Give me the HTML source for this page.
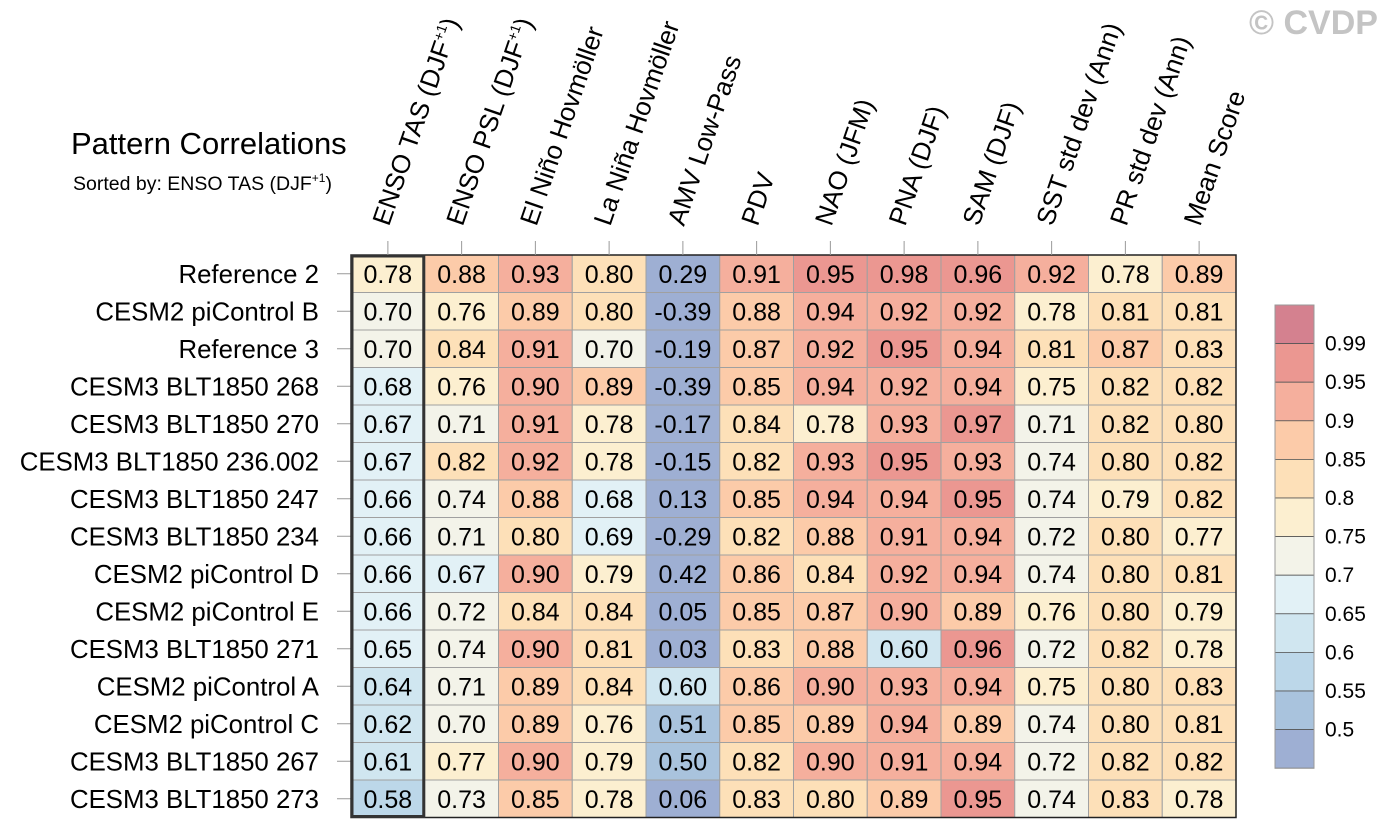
<!DOCTYPE html>
<html><head><meta charset="utf-8">
<style>
html,body{margin:0;padding:0;background:#fff;}
svg{display:block;font-family:"Liberation Sans",Arial,sans-serif;}
</style></head>
<body>
<svg id="c" width="1386" height="839" viewBox="0 0 1386 839" xmlns="http://www.w3.org/2000/svg">
<text x="1249" y="34" font-size="34" font-weight="bold" fill="#c4c4c4">© CVDP</text>
<text x="71" y="154" font-size="31" fill="#000">Pattern Correlations</text>
<text x="73" y="190" font-size="19.5" fill="#000">Sorted by: ENSO TAS (DJF<tspan font-size="12" dy="-8">+1</tspan><tspan dy="8">)</tspan></text>
<g id="grid"></g>
<g id="cbar"></g>
</svg>
<script>
const metrics = ["ENSO TAS (DJF+1)","ENSO PSL (DJF+1)","El Niño Hovmöller","La Niña Hovmöller","AMV Low-Pass","PDV","NAO (JFM)","PNA (DJF)","SAM (DJF)","SST std dev (Ann)","PR std dev (Ann)","Mean Score"];
const models = ["Reference 2","CESM2 piControl B","Reference 3","CESM3 BLT1850 268","CESM3 BLT1850 270","CESM3 BLT1850 236.002","CESM3 BLT1850 247","CESM3 BLT1850 234","CESM2 piControl D","CESM2 piControl E","CESM3 BLT1850 271","CESM2 piControl A","CESM2 piControl C","CESM3 BLT1850 267","CESM3 BLT1850 273"];
const values = [
[0.78,0.88,0.93,0.80,0.29,0.91,0.95,0.98,0.96,0.92,0.78,0.89],
[0.70,0.76,0.89,0.80,-0.39,0.88,0.94,0.92,0.92,0.78,0.81,0.81],
[0.70,0.84,0.91,0.70,-0.19,0.87,0.92,0.95,0.94,0.81,0.87,0.83],
[0.68,0.76,0.90,0.89,-0.39,0.85,0.94,0.92,0.94,0.75,0.82,0.82],
[0.67,0.71,0.91,0.78,-0.17,0.84,0.78,0.93,0.97,0.71,0.82,0.80],
[0.67,0.82,0.92,0.78,-0.15,0.82,0.93,0.95,0.93,0.74,0.80,0.82],
[0.66,0.74,0.88,0.68,0.13,0.85,0.94,0.94,0.95,0.74,0.79,0.82],
[0.66,0.71,0.80,0.69,-0.29,0.82,0.88,0.91,0.94,0.72,0.80,0.77],
[0.66,0.67,0.90,0.79,0.42,0.86,0.84,0.92,0.94,0.74,0.80,0.81],
[0.66,0.72,0.84,0.84,0.05,0.85,0.87,0.90,0.89,0.76,0.80,0.79],
[0.65,0.74,0.90,0.81,0.03,0.83,0.88,0.60,0.96,0.72,0.82,0.78],
[0.64,0.71,0.89,0.84,0.60,0.86,0.90,0.93,0.94,0.75,0.80,0.83],
[0.62,0.70,0.89,0.76,0.51,0.85,0.89,0.94,0.89,0.74,0.80,0.81],
[0.61,0.77,0.90,0.79,0.50,0.82,0.90,0.91,0.94,0.72,0.82,0.82],
[0.58,0.73,0.85,0.78,0.06,0.83,0.80,0.89,0.95,0.74,0.83,0.78]
];
const levels = [0.5,0.55,0.6,0.65,0.7,0.75,0.8,0.85,0.9,0.95,0.99];
const levelLabels = ["0.5","0.55","0.6","0.65","0.7","0.75","0.8","0.85","0.9","0.95","0.99"];
const palette = ["#9eafd3","#a9c3dd","#bcd7e9","#d0e6f0","#e2f1f6","#f3f3e9","#fcefd0","#fde0b8","#fccba9","#f5af9d","#eb9791","#d4818f"];

const NS="http://www.w3.org/2000/svg";
const X0=351, Y0=255, CW=73.75, RH=37.5;
const xPos=j=>X0+j*CW, yPos=i=>Y0+i*RH;
function colorFor(v){let k=0;while(k<levels.length&&v>=levels[k]-1e-9)k++;return palette[k];}
function mk(tag,attrs,parent){const e=document.createElementNS(NS,tag);for(const a in attrs)e.setAttribute(a,attrs[a]);parent.appendChild(e);return e;}
const g=document.getElementById('grid');

values.forEach((row,i)=>{
  row.forEach((v,j)=>{
    const r=mk('rect',{x:xPos(j),y:yPos(i),width:CW,height:RH,fill:colorFor(v),stroke:'#a0a0a0','stroke-width':1},g);
    
    
    const t=mk('text',{x:xPos(j)+CW/2,y:yPos(i)+RH/2+9,'font-size':25,'text-anchor':'middle',fill:'#000'},g);
    t.textContent=v.toFixed(2);
    
    
  });
  const tk=mk('line',{x1:X0-14,x2:X0,y1:yPos(i)+RH/2,y2:yPos(i)+RH/2,stroke:'#999','stroke-width':1},g);
  
  
  const lb=mk('text',{x:319,y:yPos(i)+RH/2+9,'font-size':25.8,'text-anchor':'end',fill:'#000'},g);
  lb.textContent=models[i];
  
  
});
const ob=mk('rect',{x:X0,y:Y0,width:CW*metrics.length,height:RH*models.length,fill:'none',stroke:'#222','stroke-width':1.5},g);


const hb=mk('rect',{x:X0+1,y:Y0+1,width:CW-2,height:RH*models.length-2,fill:'none',stroke:'#333','stroke-width':3},g);



metrics.forEach((m,j)=>{
  const cx=xPos(j)+CW/2;
  const tk=mk('line',{x1:cx,x2:cx,y1:Y0-14,y2:Y0,stroke:'#999','stroke-width':1},g);
  
  
  const t=mk('text',{x:0,y:0,'font-size':26,fill:'#000',transform:`translate(${cx+1},227) rotate(-71)`},g);
  if(m.endsWith('(DJF+1)')){
    t.appendChild(document.createTextNode(m.replace('(DJF+1)','(DJF')));
    const s=mk('tspan',{'font-size':14,dy:-10},t);s.textContent='+1';
    const s2=mk('tspan',{dy:10},t);s2.textContent=')';
  } else t.textContent=m;
  
  
});

const cb=document.getElementById('cbar');
const CBX=1275,CBY=305,CBW=39,BH=38.6;
palette.forEach((c,k)=>{
  const idx=palette.length-1-k;
  const r=mk('rect',{x:CBX,y:CBY+k*BH,width:CBW,height:BH,fill:palette[idx],stroke:'#555','stroke-width':0.8},cb);
  
  
});
levels.forEach((lv,k)=>{
  const y=CBY+(levels.length-k)*BH;
  const t=mk('text',{x:1325,y:y+7,'font-size':21,fill:'#000'},cb);
  t.textContent=levelLabels[k];
  
  
});
const cbo=mk('rect',{x:CBX,y:CBY,width:CBW,height:BH*palette.length,fill:'none',stroke:'#999','stroke-width':1},cb);


</script>
</body></html>
